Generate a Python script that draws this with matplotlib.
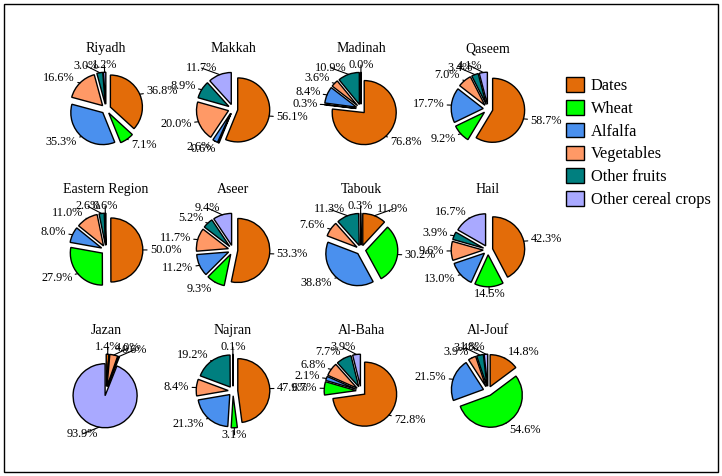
import numpy as np
import matplotlib
matplotlib.use("Agg")
import matplotlib.pyplot as plt
import matplotlib.patches as mpatches

plt.rcParams['font.family'] = ['Liberation Serif', 'DejaVu Serif']

# Crop categories and colours
crops = ['Dates', 'Wheat', 'Alfalfa', 'Vegetables', 'Other fruits', 'Other cereal crops']
crop_colors = ['#E36C09', '#00FF00', '#4A90EE', '#FF9966', '#007F7F', '#A9A9FF']

# Share of each crop (%) per region, in crop order
regions = ['Riyadh', 'Makkah', 'Madinah', 'Qaseem',
           'Eastern Region', 'Aseer', 'Tabouk', 'Hail',
           'Jazan', 'Najran', 'Al-Baha', 'Al-Jouf']
riyadh = [36.8, 7.1, 35.3, 16.6, 3.0, 1.2]
makkah = [56.1, 0.6, 2.6, 20.0, 8.9, 11.7]
madinah = [76.8, 0.3, 8.4, 3.6, 10.9, 0.04]
qaseem = [58.7, 9.2, 17.7, 7.0, 3.4, 4.1]
eastern = [50.0, 27.9, 8.0, 11.0, 2.6, 0.6]
aseer = [53.3, 9.3, 11.2, 11.7, 5.2, 9.4]
tabouk = [11.9, 30.2, 38.8, 7.6, 11.3, 0.3]
hail = [42.3, 14.5, 13.0, 9.6, 3.9, 16.7]
jazan = [1.4, 0.0, 0.0, 4.0, 0.6, 93.9]
najran = [47.9, 3.1, 21.3, 8.4, 19.2, 0.1]
albaha = [72.8, 6.7, 2.1, 6.8, 7.7, 3.9]
aljouf = [14.8, 54.6, 21.5, 3.9, 3.4, 1.8]
shares = [riyadh, makkah, madinah, qaseem, eastern, aseer,
          tabouk, hail, jazan, najran, albaha, aljouf]

W, H = 722, 476
fig = plt.figure(figsize=(W / 100, H / 100), dpi=100)

# outer frame
fig.patches.append(mpatches.Rectangle((0.006, 0.008), 0.988, 0.984, transform=fig.transFigure,
                                      fill=False, edgecolor='black', linewidth=1.0))

col_x = [106, 233, 361, 488]   # pie centres, px
row_y = [109, 250, 391]
R_PX = 32                      # pie radius in px
LIM = 1.9
box = 2 * LIM * R_PX

for i, (name, vals) in enumerate(zip(regions, shares)):
    cx, cy = col_x[i % 4], row_y[i // 4]
    ax = fig.add_axes([(cx - box / 2) / W, (H - cy - box / 2) / H, box / W, box / H])
    wedges, _ = ax.pie(vals, colors=crop_colors, startangle=90, counterclock=False,
                       explode=[0.15] * len(vals),
                       wedgeprops=dict(edgecolor='black', linewidth=1.0))
    ax.set_xlim(-LIM, LIM)
    ax.set_ylim(-LIM, LIM)
    ax.set_aspect('equal')
    ax.axis('off')
    ax.text(0, 1.88, name, ha='center', va='center', fontsize=10)

    # percentage labels with short leader lines
    for w, v in zip(wedges, vals):
        if v == 0:
            continue
        ang = np.deg2rad((w.theta1 + w.theta2) / 2)
        c, s = np.cos(ang), np.sin(ang)
        x0, y0 = w.center
        ha = 'left' if c > 0.05 else ('right' if c < -0.05 else 'center')
        ax.annotate(f'{v:.1f}%', xy=(x0 + w.r * c, y0 + w.r * s),
                    xytext=(x0 + (w.r + 0.22) * c, y0 + (w.r + 0.22) * s),
                    ha=ha, va='center', fontsize=8.8,
                    arrowprops=dict(arrowstyle='-', lw=0.8, color='black',
                                    shrinkA=0, shrinkB=0))

handles = [mpatches.Patch(facecolor=col, edgecolor='black', linewidth=1.0, label=lab)
           for lab, col in zip(crops, crop_colors)]
fig.legend(handles=handles, loc='upper left', bbox_to_anchor=(566 / W, 1 - 77 / H),
           frameon=False, fontsize=11.8, handlelength=1.1, handleheight=1.0,
           handletextpad=0.4, labelspacing=0.36, borderpad=0, borderaxespad=0)

fig.savefig('out.png', dpi=100)
